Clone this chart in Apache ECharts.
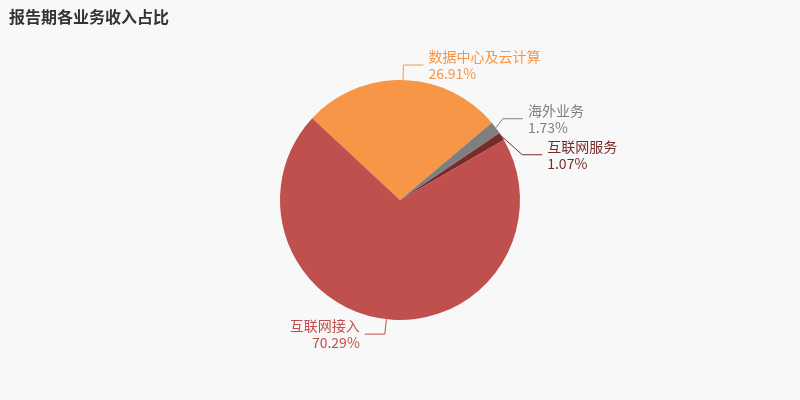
<!DOCTYPE html>
<html><head><meta charset="utf-8">
<script src="https://cdn.jsdelivr.net/npm/echarts@6/dist/echarts.min.js"></script>
<style>html,body{margin:0;background:#f8f8f8}#c{width:800px;height:400px}</style>
</head><body><div id="c"></div>
<script>
const names = ['数据中心及云计算','海外业务','互联网服务','互联网接入'];
const values = [26.91, 1.73, 1.07, 70.29];
const colors = ['#f79646','#7f7f7f','#772c2a','#c0504d'];
const chart = echarts.init(document.getElementById('c'));
chart.setOption({
  backgroundColor:'#f8f8f8',
  title:{text:'报告期各业务收入占比',left:4,top:4,textStyle:{fontSize:16,fontWeight:'bold',color:'#333',fontFamily:'Noto Sans CJK SC'}},
  series:[{
    type:'pie',center:[400,200],radius:[0,120],startAngle:137,clockwise:true,
    data:names.map((n,i)=>({name:n,value:values[i],itemStyle:{color:colors[i]},label:{color:colors[i]},labelLine:{lineStyle:{color:colors[i]}}})),
    label:{formatter:p=>p.name+'\n'+p.value.toFixed(2)+'%',fontSize:14,lineHeight:17,fontFamily:'Noto Sans CJK SC',alignTo:'none'},
    labelLine:{length:15,length2:20},
    avoidLabelOverlap:true
  }]
});
</script></body></html>
